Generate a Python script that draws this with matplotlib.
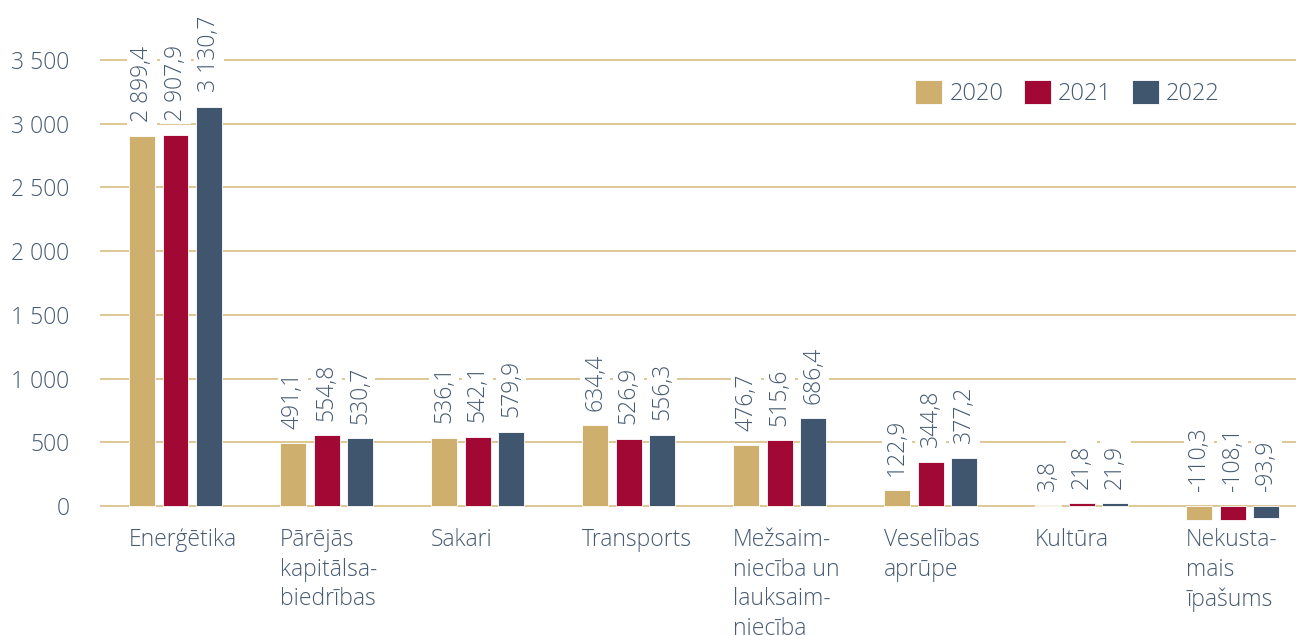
import numpy as np
import matplotlib
matplotlib.use("Agg")
import matplotlib.pyplot as plt

plt.rcParams['font.family'] = ['Open Sans', 'DejaVu Sans']
plt.rcParams['font.weight'] = 'light'

categories = ['Enerģētika', 'Pārējās\nkapitālsa-\nbiedrības', 'Sakari', 'Transports',
              'Mežsaim-\nniecība un\nlauksaim-\nniecība', 'Veselības\naprūpe', 'Kultūra',
              'Nekusta-\nmais\nīpašums']
years = ['2020', '2021', '2022']
v2020 = [2899.4, 491.1, 536.1, 634.4, 476.7, 122.9, 3.8, -110.3]
v2021 = [2907.9, 554.8, 542.1, 526.9, 515.6, 344.8, 21.8, -108.1]
v2022 = [3130.7, 530.7, 579.9, 556.3, 686.4, 377.2, 21.9, -93.9]
y_ticks = [0, 500, 1000, 1500, 2000, 2500, 3000, 3500]

colors = ['#CFAF6E', '#A20834', '#40566E']
txt_col = '#465A70'
grid_col = '#DCC38E'

def fmt_val(v):
    return f"{v:,.1f}".replace(",", " ").replace(".", ",")

fig = plt.figure(figsize=(12.96, 6.35), dpi=100)
ax = fig.add_axes([100/1296, 0.1731, 1 - 100/1296, 0.7425])

x = np.arange(len(categories))
step = 0.222
width = 0.172
series = [v2020, v2021, v2022]
for k, vals in enumerate(series):
    pos = x + (k - 1) * step
    ax.bar(pos, vals, width, color=colors[k], label=years[k], zorder=2,
           edgecolor='white', linewidth=0.6)
    for p, v in zip(pos, vals):
        ax.annotate(fmt_val(v), (p, max(v, 0)), xytext=(0, 10.5), textcoords='offset points',
                    rotation=90, ha='center', va='bottom', fontsize=16.5, color=txt_col,
                    zorder=4, bbox=dict(boxstyle='square,pad=0.15', fc='white', ec='none'))

ax.set_xlim(-0.5, 7.42)
ax.set_ylim(-150, 3550)
ax.set_yticks(y_ticks)
ax.set_yticklabels([f"{t:,}".replace(",", " ") for t in y_ticks])
ax.grid(axis='y', color=grid_col, linewidth=1.3, zorder=0)
ax.set_axisbelow(True)
for s in ax.spines.values():
    s.set_visible(False)

ax.set_xticks(x - step - width / 2)
ax.set_xticklabels(categories, ha='left', va='top', linespacing=1.32)
ax.tick_params(axis='x', length=0, pad=2, labelsize=16.5, labelcolor=txt_col)
ax.tick_params(axis='y', length=0, pad=22, labelsize=16.5, labelcolor=txt_col)

leg = fig.legend(loc='center', bbox_to_anchor=(0.8237, 0.8535), ncol=3, frameon=False,
                 fontsize=17, handlelength=1.15, handleheight=1.15, handletextpad=0.3,
                 columnspacing=0.85, labelcolor=txt_col)

fig.savefig('out.png', dpi=100)
